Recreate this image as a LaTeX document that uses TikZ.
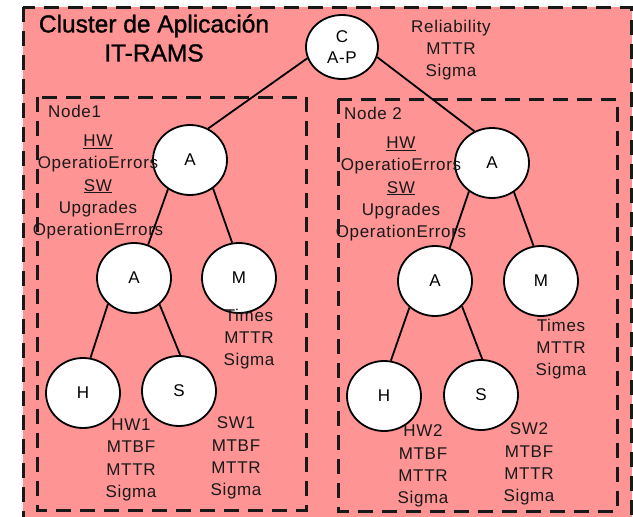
\documentclass[tikz,border=0pt]{standalone}
\usepackage{fontspec}
\setmainfont{Liberation Sans}
\newfontfamily\spacedfont[LetterSpace=4]{Liberation Sans}
\newfontfamily\titlefont[FakeBold=1.2]{Liberation Sans}
\usetikzlibrary{shapes.geometric}
\definecolor{clusterpink}{RGB}{255,148,148}
\tikzset{
  groupbox/.style={draw=black!90, line width=3pt, dash pattern=on 15pt off 9pt},
  tnode/.style={ellipse, draw=black, line width=1.8pt, fill=white, inner sep=0pt,
                minimum width=74pt, minimum height=70pt, font=\spacedfont\fontsize{17}{22.3}\selectfont},
  link/.style={draw=black, line width=1.8pt},
  info/.style={align=center, inner sep=0pt, font=\spacedfont\fontsize{17}{22.3}\selectfont, text=black!90},
  title/.style={align=center, inner sep=0pt, font=\titlefont\fontsize{24.5}{29}\selectfont, text=black}
}
\begin{document}
\begin{tikzpicture}[x=1pt,y=-1pt]
\useasboundingbox (0,0) rectangle (633,517);
\fill[clusterpink] (23,7) rectangle (632,545);
\draw[groupbox] (23,7) rectangle (631,545);
\draw[groupbox] (37,97) rectangle (306,510);
\draw[groupbox] (338,99) rectangle (617,511);

% tree nodes
\node[tnode, minimum width=72pt, minimum height=64pt, align=center] (C) at (342,47) {C\\[-1pt]A-P};
\node[tnode] (A1) at (190,160) {A};
\node[tnode] (A1b) at (134,278) {A};
\node[tnode] (M1) at (239,278) {M};
\node[tnode] (H1) at (83,393) {H};
\node[tnode] (S1) at (179,391) {S};
\node[tnode] (A2) at (492,163) {A};
\node[tnode] (A2b) at (435,281) {A};
\node[tnode] (M2) at (541,281) {M};
\node[tnode] (H2) at (384,396) {H};
\node[tnode] (S2) at (481,395) {S};

% connectors
\draw[link] (C.198) -- (A1.60);
\draw[link] (C.344) -- (A2.119);
\draw[link] (A1.233) -- (A1b.67);
\draw[link] (A1.309) -- (M1.101);
\draw[link] (A1b.225) -- (H1.78);
\draw[link] (A1b.314) -- (S1.88);
\draw[link] (A2.231) -- (A2b.66);
\draw[link] (A2.307) -- (M2.102);
\draw[link] (A2b.226) -- (H2.79);
\draw[link] (A2b.317) -- (S2.88);

% texts
\node[title] (ttl) at (154,38) {Cluster de Aplicación\\IT-RAMS};
\node[info] (rel) at (451,50) {Reliability\\MTTR\\Sigma};
\node[info, anchor=west] (n1) at (48,111) {Node1};
\node[info, anchor=west] (n2) at (344,113) {Node 2};
\node[info] (i1) at (98,187) {\underline{HW}\\OperatioErrors\\\underline{SW}\\Upgrades\\OperationErrors};
\node[info] (i2) at (401,189) {\underline{HW}\\OperatioErrors\\\underline{SW}\\Upgrades\\OperationErrors};
\node[info] (t1) at (249,339) {Times\\MTTR\\Sigma};
\node[info] (t2) at (561,349) {Times\\MTTR\\Sigma};
\node[info] (hw1) at (131,460) {HW1\\MTBF\\MTTR\\Sigma};
\node[info] (sw1) at (236,458) {SW1\\MTBF\\MTTR\\Sigma};
\node[info] (hw2) at (423,466) {HW2\\MTBF\\MTTR\\Sigma};
\node[info] (sw2) at (529,464) {SW2\\MTBF\\MTTR\\Sigma};
\end{tikzpicture}
\end{document}
